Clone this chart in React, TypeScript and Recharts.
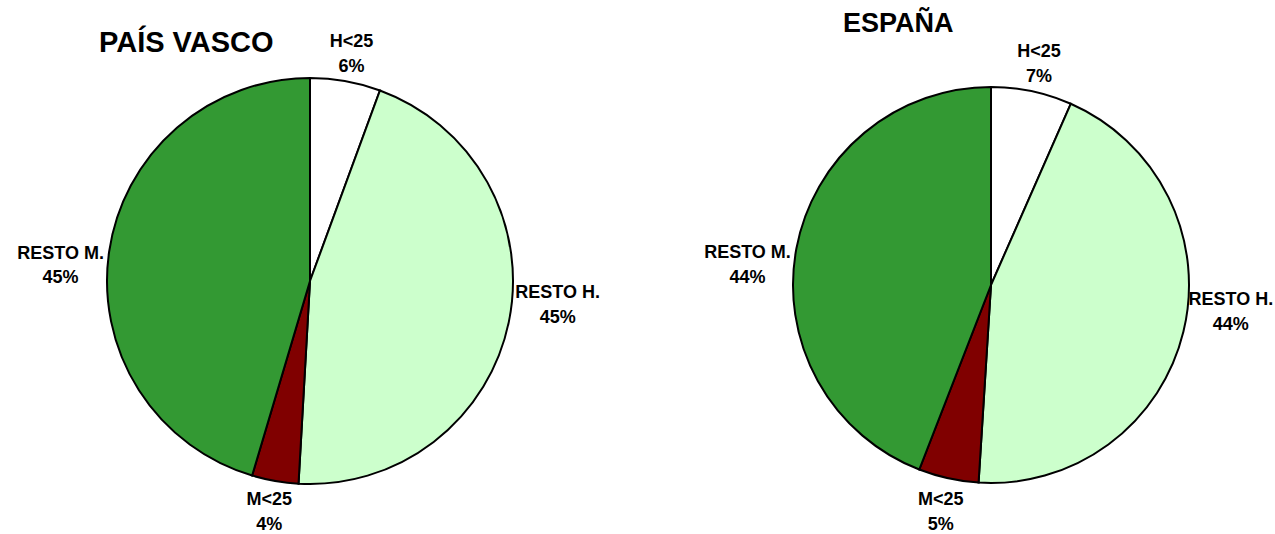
import React from 'react';
import { PieChart, Pie, Cell } from 'recharts';

const categories = ['H<25', 'RESTO H.', 'M<25', 'RESTO M.'];
const paisVascoValues = [5.6, 45.3, 3.7, 45.4];
const espanaValues = [6.6, 44.4, 4.9, 44.1];
const sliceColors = ['#FFFFFF', '#CCFFCC', '#800000', '#339933'];
const titles = ['PAÍS VASCO', 'ESPAÑA'];

const paisVascoData = categories.map((name, i) => ({ name, value: paisVascoValues[i] }));
const espanaData = categories.map((name, i) => ({ name, value: espanaValues[i] }));

const CHART_W = 1275;
const CHART_H = 534;
const RAD = Math.PI / 180;
const FONT = 'Liberation Sans, Arial, Helvetica, sans-serif';

const renderLabel = (props: any) => {
  const { cx, cy, midAngle, outerRadius, percent, name } = props;
  const dx = Math.cos(midAngle * RAD);
  const dy = -Math.sin(midAngle * RAD);
  const fontSize = 18;
  const halfW = Math.max(String(name).length, 3) * fontSize * 0.3;
  const halfH = 23;
  const side = Math.abs(dx) > 0.9;
  const ext = Math.abs(dx) * halfW + Math.abs(dy) * halfH;
  const dist = outerRadius + (side ? 3 : 8) + ext;
  // side labels are kept closer to the horizontal, as the spreadsheet does
  const vy = side ? dy * 0.45 : dy;
  let x = cx + dx * dist;
  let y = cy + vy * dist;
  if (dy < -0.9) y += 6;
  x = Math.min(x, CHART_W - halfW - 1);
  x = Math.max(x, halfW + 1);
  y = Math.min(y, CHART_H - 23);
  return (
    <text
      x={x}
      y={y - 6}
      textAnchor="middle"
      fontFamily={FONT}
      fontWeight="bold"
      fontSize={fontSize}
      fill="#000"
    >
      <tspan x={x} y={y - 6}>{name}</tspan>
      <tspan x={x} y={y + 18.5}>{`${Math.round(percent * 100)}%`}</tspan>
    </text>
  );
};

export default function App() {
  return (
    <div style={{ position: 'absolute', left: 0, top: 0, width: CHART_W, height: CHART_H, background: '#fff' }}>
      <PieChart width={CHART_W} height={CHART_H} margin={{ top: 0, right: 0, bottom: 0, left: 0 }}>
        <Pie
          data={paisVascoData}
          dataKey="value"
          nameKey="name"
          cx={310}
          cy={281}
          outerRadius={203}
          startAngle={90}
          endAngle={-270}
          stroke="#000"
          strokeWidth={2}
          label={renderLabel}
          labelLine={false}
          isAnimationActive={false}
        >
          {paisVascoData.map((d, i) => (
            <Cell key={d.name} fill={sliceColors[i]} stroke="#000" strokeWidth={2} />
          ))}
        </Pie>
        <Pie
          data={espanaData}
          dataKey="value"
          nameKey="name"
          cx={991}
          cy={285}
          outerRadius={198}
          startAngle={90}
          endAngle={-270}
          stroke="#000"
          strokeWidth={2}
          label={renderLabel}
          labelLine={false}
          isAnimationActive={false}
        >
          {espanaData.map((d, i) => (
            <Cell key={d.name} fill={sliceColors[i]} stroke="#000" strokeWidth={2} />
          ))}
        </Pie>
      </PieChart>
      <svg
        width={CHART_W}
        height={CHART_H}
        style={{ position: 'absolute', left: 0, top: 0, pointerEvents: 'none' }}
      >
        <text x={99} y={52} fontFamily={FONT} fontWeight="bold" fontSize={29} fill="#000">
          {titles[0]}
        </text>
        <text x={843} y={32} fontFamily={FONT} fontWeight="bold" fontSize={27} fill="#000">
          {titles[1]}
        </text>
      </svg>
    </div>
  );
}
